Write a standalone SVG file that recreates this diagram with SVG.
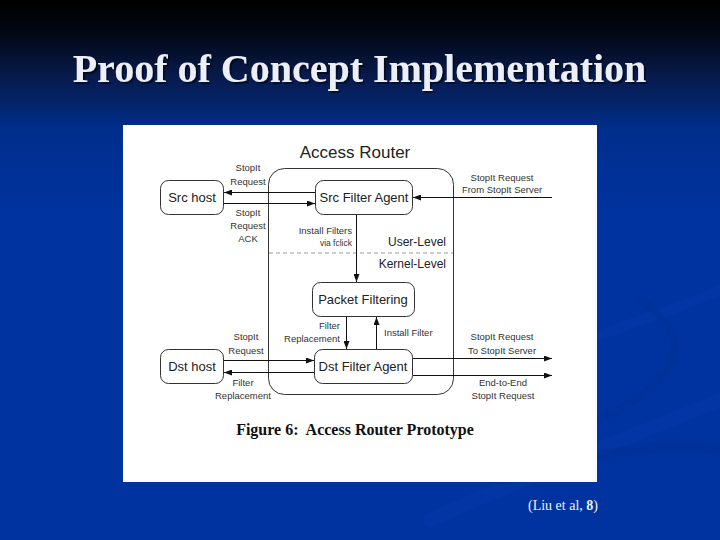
<svg xmlns="http://www.w3.org/2000/svg" width="720" height="540" viewBox="0 0 720 540">
<defs>
<linearGradient id="bg" x1="0" y1="0" x2="0" y2="1">
<stop offset="0" stop-color="#000000"/>
<stop offset="0.06" stop-color="#020716"/>
<stop offset="0.14" stop-color="#071a4a"/>
<stop offset="0.24" stop-color="#002e8c"/>
<stop offset="0.4" stop-color="#0033a0"/>
<stop offset="1" stop-color="#0033a0"/>
</linearGradient>
<filter id="shadow" x="-5%" y="-20%" width="110%" height="140%">
<feDropShadow dx="2" dy="2" stdDeviation="0.5" flood-color="#000" flood-opacity="0.5"/>
</filter>
<marker id="ah" markerWidth="8" markerHeight="6" refX="8" refY="3" orient="auto" markerUnits="userSpaceOnUse">
<path d="M0,0 L8,3 L0,6 Z" fill="#111"/>
</marker>
<style>
.node rect{fill:#fff;stroke:#333;stroke-width:1}
.nl{font-family:"Liberation Sans",Arial,sans-serif;font-size:13px;fill:#222;text-anchor:middle}
.sl{font-family:"Liberation Sans",Arial,sans-serif;font-size:9.5px;fill:#333;text-anchor:middle}
.lv{font-family:"Liberation Sans",Arial,sans-serif;font-size:12px;fill:#222;text-anchor:end}
.edge{stroke:#111;stroke-width:1;fill:none;marker-end:url(#ah)}
</style>
</defs>
<rect x="0" y="0" width="720" height="540" fill="url(#bg)"/>
<g fill="none" stroke-linecap="round">
<path d="M430,520 C540,470 650,430 720,400" stroke="#0a3fae" stroke-width="14" opacity="0.3"/>
<path d="M560,350 C640,320 700,300 720,290" stroke="#0a3fae" stroke-width="10" opacity="0.3"/>
<path d="M600,420 C680,380 700,340 640,300" stroke="#002d90" stroke-width="8" opacity="0.35"/>
<path d="M500,480 C600,450 680,440 720,450" stroke="#002c8c" stroke-width="10" opacity="0.3"/>
</g>
<text x="359.5" y="82" text-anchor="middle" font-family="'Liberation Serif','Times New Roman',serif" font-weight="bold" font-size="40" fill="#eceef8" filter="url(#shadow)">Proof of Concept Implementation</text>
<rect x="123" y="125" width="474" height="357" fill="#ffffff"/>
<g id="access-router">
<rect x="268.5" y="168.5" width="185" height="226" rx="16" ry="16" fill="none" stroke="#333" stroke-width="1"/>
<text x="355" y="158" text-anchor="middle" font-family="'Liberation Sans',Arial,sans-serif" font-size="17" fill="#222">Access Router</text>
<line x1="269" y1="253" x2="453" y2="253" stroke="#999" stroke-width="1" stroke-dasharray="4,3"/>
<text class="lv" x="446" y="246">User-Level</text>
<text class="lv" x="446" y="268">Kernel-Level</text>
</g>
<g id="src-host" class="node"><rect x="160.5" y="180.5" width="63" height="34" rx="8"/><text class="nl" x="192" y="202">Src host</text></g>
<g id="src-filter-agent" class="node"><rect x="315.5" y="180.5" width="97" height="34" rx="8"/><text class="nl" x="364" y="202">Src Filter Agent</text></g>
<g id="packet-filtering" class="node"><rect x="312.5" y="282.5" width="102" height="34" rx="8"/><text class="nl" x="363" y="304">Packet Filtering</text></g>
<g id="dst-filter-agent" class="node"><rect x="314.5" y="349.5" width="98" height="34" rx="8"/><text class="nl" x="363" y="371">Dst Filter Agent</text></g>
<g id="dst-host" class="node"><rect x="160.5" y="349.5" width="63" height="34" rx="8"/><text class="nl" x="192" y="371">Dst host</text></g>
<g id="connectors">
<line class="edge" x1="315" y1="192.5" x2="224" y2="192.5"/>
<line class="edge" x1="224" y1="203.5" x2="315" y2="203.5"/>
<line class="edge" x1="552" y1="197.5" x2="413" y2="197.5"/>
<line class="edge" x1="356.5" y1="215" x2="356.5" y2="282"/>
<line class="edge" x1="346.5" y1="317" x2="346.5" y2="349"/>
<line class="edge" x1="376.5" y1="349" x2="376.5" y2="317"/>
<line class="edge" x1="224" y1="360.5" x2="314" y2="360.5"/>
<line class="edge" x1="314" y1="372.5" x2="224" y2="372.5"/>
<line class="edge" x1="413" y1="358.5" x2="552" y2="358.5"/>
<line class="edge" x1="413" y1="375.5" x2="552" y2="375.5"/>
</g>
<g id="labels">
<text class="sl" x="248" y="171">StopIt</text>
<text class="sl" x="248" y="185">Request</text>
<text class="sl" x="248" y="216">StopIt</text>
<text class="sl" x="248" y="229">Request</text>
<text class="sl" x="248" y="242">ACK</text>
<text class="sl" x="352" y="234" style="text-anchor:end">Install Filters</text>
<text class="sl" x="352" y="246" style="text-anchor:end;font-size:8.5px">via fclick</text>
<text class="sl" x="502" y="181">StopIt Request</text>
<text class="sl" x="502" y="193">From StopIt Server</text>
<text class="sl" x="340" y="329" style="text-anchor:end">Filter</text>
<text class="sl" x="340" y="342" style="text-anchor:end">Replacement</text>
<text class="sl" x="384" y="336" style="text-anchor:start">Install Filter</text>
<text class="sl" x="246" y="340">StopIt</text>
<text class="sl" x="246" y="354">Request</text>
<text class="sl" x="243" y="386">Filter</text>
<text class="sl" x="243" y="399">Replacement</text>
<text class="sl" x="502" y="340">StopIt Request</text>
<text class="sl" x="502" y="354">To StopIt Server</text>
<text class="sl" x="503" y="386">End-to-End</text>
<text class="sl" x="503" y="399">StopIt Request</text>
</g>
<text x="355" y="435" text-anchor="middle" font-family="'Liberation Serif','Times New Roman',serif" font-weight="bold" font-size="16" fill="#111" xml:space="preserve">Figure 6:  Access Router Prototype</text>
<text x="528" y="510" font-family="'Liberation Serif','Times New Roman',serif" font-size="14" fill="#f0f0f8">(Liu et al, <tspan font-weight="bold">8</tspan>)</text>
</svg>
